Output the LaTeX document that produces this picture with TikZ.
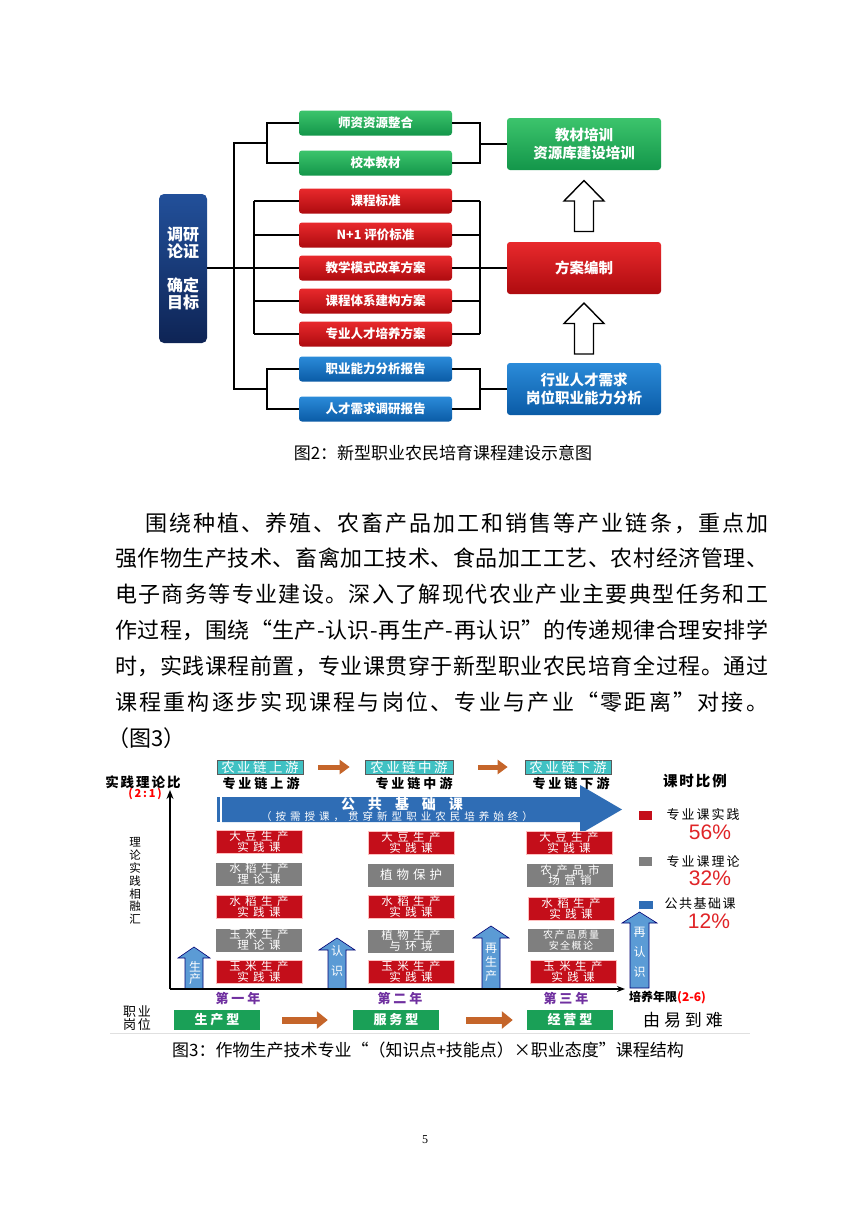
\documentclass[tikz,border=0pt]{standalone}
\usepackage{fontspec}
\setmainfont{Noto Sans CJK SC}
\newfontfamily\lsans{Liberation Sans}
\newfontfamily\lserif{Liberation Serif}
\usetikzlibrary{arrows.meta,calc,shadings}
\newcommand\fsz[2]{\fontsize{#1}{#2}\selectfont}
\def\spr#1{\sprA#1\sprEnd}
\def\sprA#1#2\sprEnd{#1\ifx\relax#2\relax\else\hfill\sprA#2\sprEnd\fi}
\def\ls#1#2{\def\lsk{\kern#1\relax}\lsA#2\lsEnd}
\def\lsA#1#2\lsEnd{#1\ifx\relax#2\relax\else\lsk\lsA#2\lsEnd\fi}
\definecolor{gA}{HTML}{3CC46C}
\definecolor{gB}{HTML}{13964A}
\definecolor{rA}{HTML}{E8292C}
\definecolor{rB}{HTML}{AE0B0F}
\definecolor{bA}{HTML}{2B8BD9}
\definecolor{bB}{HTML}{0A5BA6}
\definecolor{nA}{HTML}{22509A}
\definecolor{nB}{HTML}{0E2455}
\definecolor{tealc}{HTML}{3FC1C3}
\definecolor{brownc}{HTML}{C5652A}
\definecolor{cred}{HTML}{C40E1A}
\definecolor{cgray}{HTML}{7F7F7F}
\definecolor{lblue}{HTML}{5B9BD5}
\definecolor{pgreen}{HTML}{1AA057}
\definecolor{purp}{HTML}{7030A0}
\definecolor{pct}{HTML}{E02427}
\definecolor{bigblue}{HTML}{2F6DB5}
\tikzset{
  box/.style={rounded corners=3pt, inner sep=0pt, text=white, align=center, font=\bfseries\fsz{12.5}{15}},
  gbox/.style={box, top color=gA, bottom color=gB, minimum width=153pt, minimum height=25pt},
  rbox/.style={box, top color=rA, bottom color=rB, minimum width=153pt, minimum height=25pt},
  bbox/.style={box, top color=bA, bottom color=bB, minimum width=153pt, minimum height=25pt},
  bigbox/.style={minimum width=154pt, minimum height=52pt, font=\bfseries\fsz{14.5}{18}},
  conn/.style={draw=black, line width=1.3pt},
  hollow/.style={draw=black, line width=1.4pt, fill=white, line join=miter},
  tealbox/.style={fill=tealc, draw=black!65, line width=.7pt, text=white, inner sep=0pt, minimum width=86pt, minimum height=14pt, font=\fsz{13.5}{13}},
  brarrow/.style={draw=brownc, line width=5pt, -{Triangle[length=10pt,width=14pt]}},
  brarrowB/.style={draw=brownc, line width=7pt, -{Triangle[length=11pt,width=17pt]}},
  chain/.style={font=\bfseries\fsz{13}{13}},
  axis/.style={draw=black, line width=2.2pt},
  course/.style={inner sep=0pt, minimum width=86pt, minimum height=23pt, text=white, align=center, font=\fsz{11.5}{10.8}},
  credb/.style={course, fill=cred, draw=red!25!white, line width=.6pt},
  cgrayb/.style={course, fill=cgray},
  barrow/.style={fill=lblue, draw=blue!45!black, line width=.6pt},
  arrtxt/.style={text=white, font=\fsz{12}{12}},
  year/.style={text=purp, font=\bfseries\fsz{13}{13}},
  pgbox/.style={fill=pgreen, inner sep=0pt, minimum width=86pt, minimum height=20pt, text=white, font=\bfseries\fsz{13}{13}},
  legtxt/.style={font=\fsz{13}{13}, anchor=west},
  pcttxt/.style={text=pct, font=\lsans\fsz{21}{21}},
  body/.style={anchor=west, inner sep=0pt, font=\fsz{22}{22}},
}
\begin{document}
\begin{tikzpicture}[x=1pt,y=-1pt]
\useasboundingbox (0,0) rectangle (860,1216);
\fill[white] (0,0) rectangle (860,1216);

% ---------------- Figure 2 ----------------
\node[box, top color=nA, bottom color=nB, minimum width=48pt, minimum height=149pt, rounded corners=5pt, font=\bfseries\fsz{16}{17}] (nav) at (183,268.5) {调研\\论证\\[17pt]确定\\目标};

\node[gbox] (m1) at (375.5,123) {师资资源整合};
\node[gbox] (m2) at (375.5,163) {校本教材};
\node[rbox] (m3) at (375.5,201) {课程标准};
\node[rbox] (m4) at (375.5,235) {N+1 评价标准};
\node[rbox] (m5) at (375.5,268) {教学模式改革方案};
\node[rbox] (m6) at (375.5,301) {课程体系建构方案};
\node[rbox] (m7) at (375.5,334) {专业人才培养方案};
\node[bbox] (m8) at (375.5,369) {职业能力分析报告};
\node[bbox] (m9) at (375.5,409) {人才需求调研报告};

\node[gbox, bigbox] (r1) at (584,144) {教材培训\\资源库建设培训};
\node[rbox, bigbox] (r2) at (584,268) {方案编制};
\node[bbox, bigbox] (r3) at (584,389) {行业人才需求\\岗位职业能力分析};

\coordinate (tx) at (234,0);
\coordinate (gx) at (267,0);
\coordinate (rx) at (254,0);
\coordinate (rr) at (480,0);
\coordinate (gm) at ($(m1.west -| gx)!0.5!(m2.west -| gx)$);
\coordinate (bm) at ($(m8.west -| gx)!0.5!(m9.west -| gx)$);

\draw[conn] (nav.east |- m5) -- (m5.west);
\draw[conn] (gm) -- (gm -| tx) -- (bm -| tx) -- (bm);
\draw[conn] (m1.west) -- (m1.west -| gx) -- (m2.west -| gx) -- (m2.west);
\draw[conn] (m8.west) -- (m8.west -| gx) -- (m9.west -| gx) -- (m9.west);
\draw[conn] (m3.west -| rx) -- (m7.west -| rx);
\foreach \i in {3,4,6,7} \draw[conn] (m\i.west -| rx) -- (m\i.west);
\draw[conn] (m1.east) -- (m1.east -| rr) -- (m2.east -| rr) -- (m2.east);
\draw[conn] (r1.west -| rr) -- (r1.west);
\draw[conn] (m3.east -| rr) -- (m7.east -| rr);
\foreach \i in {3,4,6,7} \draw[conn] (m\i.east) -- (m\i.east -| rr);
\draw[conn] (m5.east) -- (m5.east -| r2.west);
\draw[conn] (m8.east) -- (m8.east -| rr) -- (m9.east -| rr) -- (m9.east);
\draw[conn] (r3.west -| rr) -- (r3.west);

\coordinate (a1c) at ($(r1.south)!0.5!(r2.north)$);
\coordinate (a2c) at ($(r2.south)!0.5!(r3.north)$);
\foreach \c in {a1c,a2c}{
  \draw[hollow] ($(\c)+(-9.5,25.5)$) -- ($(\c)+(-9.5,-5)$) -- ($(\c)+(-20,-5)$) -- ($(\c)+(0,-25.5)$) -- ($(\c)+(20,-5)$) -- ($(\c)+(9.5,-5)$) -- ($(\c)+(9.5,25.5)$) -- cycle;
}

\node[font=\fsz{17}{17}] (cap2) at (443,453) {图2：新型职业农民培育课程建设示意图};

% ---------------- Body text ----------------
\node[body] (p1) at (145,523) {\makebox[623pt][s]{\spr{围绕种植、养殖、农畜产品加工和销售等产业链条，重点加}}};
\node[body] (p2) at (115,558) {\makebox[653pt][s]{\spr{强作物生产技术、畜禽加工技术、食品加工工艺、农村经济管理、}}};
\node[body] (p3) at (115,594) {\makebox[653pt][s]{\spr{电子商务等专业建设。深入了解现代农业产业主要典型任务和工}}};
\node[body] (p4) at (115,630) {\makebox[653pt][s]{\spr{作过程，围绕“生产-认识-再生产-再认识”的传递规律合理安排学}}};
\node[body] (p5) at (115,666) {\makebox[653pt][s]{\spr{时，实践课程前置，专业课贯穿于新型职业农民培育全过程。通过}}};
\node[body] (p6) at (115,702) {\makebox[653pt][s]{\spr{课程重构逐步实现课程与岗位、专业与产业“零距离”对接。}}};
\node[body] (p7) at (107,738) {（图3）};

% ---------------- Figure 3 ----------------
\node[tealbox] (u1) at (260,767) {\ls{2.5pt}{农业链上游}};
\node[tealbox, minimum width=88pt] (u2) at (409,767) {\ls{2.5pt}{农业链中游}};
\node[tealbox] (u3) at (568,767) {\ls{2.5pt}{农业链下游}};
\draw[brarrow, shorten <=15pt, shorten >=15pt] (u1.east) -- (u2.west);
\draw[brarrow, shorten <=25pt, shorten >=17pt] (u2.east) -- (u3.west);

\node[chain] (c1) at (261,784) {\ls{3pt}{专业链上游}};
\node[chain] (c2) at (414,784) {\ls{3pt}{专业链中游}};
\node[chain] (c3) at (571,784) {\ls{3pt}{专业链下游}};

\node[font=\bfseries\fsz{13.5}{13.5}] (ratio) at (143,782) {\ls{2pt}{实践理论比}};
\node[text=red, font=\bfseries\fsz{11}{11}] (ratio2) at (145,794) {(\,2\,:\,1\,)};
\node[align=center, font=\fsz{11.5}{12.8}] (vert) at (135,881) {理\\论\\实\\践\\相\\融\\汇};

\coordinate (O) at (170,989);
\coordinate (Yt) at (170,790);
\coordinate (Xr) at (625,989);

% big blue arrow
\fill[bigblue] (217,797) rectangle (219.5,822);
\fill[bigblue] (222,797) -- (580,797) -- (580,785) -- (622,809.5) -- (580,834) -- (580,822) -- (222,822) -- cycle;
\node[text=white, font=\bfseries\fsz{14}{14}] (pub) at (402,804) {公\hspace{13pt}共\hspace{13pt}基\hspace{13pt}础\hspace{13pt}课};
\node[text=white, font=\fsz{10.5}{10.5}] (pub2) at (397,816.5) {\makebox[272pt][s]{\spr{（按需授课，贯穿新型职业农民培养始终）}}};

% courses
\node[credb] (k11) at (259,842) {\ls{4.5pt}{大豆生产}\\\ls{4.5pt}{实践课}};
\node[cgrayb] (k12) at (259,874) {\ls{4.5pt}{水稻生产}\\\ls{4.5pt}{理论课}};
\node[credb] (k13) at (259,907) {\ls{4.5pt}{水稻生产}\\\ls{4.5pt}{实践课}};
\node[cgrayb] (k14) at (259,940) {\ls{4.5pt}{玉米生产}\\\ls{4.5pt}{理论课}};
\node[credb] (k15) at (259,971.5) {\ls{4.5pt}{玉米生产}\\\ls{4.5pt}{实践课}};

\node[credb] (k21) at (411,843) {\ls{4.5pt}{大豆生产}\\\ls{4.5pt}{实践课}};
\node[cgrayb, font=\fsz{12.5}{12}] (k22) at (411,875) {\ls{4pt}{植物保护}};
\node[credb] (k23) at (411,907) {\ls{4.5pt}{水稻生产}\\\ls{4.5pt}{实践课}};
\node[cgrayb] (k24) at (411,941) {\ls{4.5pt}{植物生产}\\\ls{4.5pt}{与环境}};
\node[credb] (k25) at (411,971.5) {\ls{4.5pt}{玉米生产}\\\ls{4.5pt}{实践课}};

\node[credb] (k31) at (569,843) {\ls{4.5pt}{大豆生产}\\\ls{4.5pt}{实践课}};
\node[cgrayb] (k32) at (570,875) {\ls{4.5pt}{农产品市}\\\ls{4.5pt}{场营销}};
\node[credb] (k33) at (571,909) {\ls{4.5pt}{水稻生产}\\\ls{4.5pt}{实践课}};
\node[cgrayb, font=\fsz{10}{11}] (k34) at (571,940) {\ls{1.5pt}{农产品质量}\\\ls{1.5pt}{安全概论}};
\node[credb] (k35) at (573,971.5) {\ls{4.5pt}{玉米生产}\\\ls{4.5pt}{实践课}};

% up arrows
\draw[barrow] (185,989) -- (185,958) -- (178,958) -- (194,947) -- (210,958) -- (203,958) -- (203,989) -- cycle;
\draw[barrow] (328,989) -- (328,950) -- (319,950) -- (337,938) -- (355,950) -- (346,950) -- (346,989) -- cycle;
\draw[barrow] (482,989) -- (482,938) -- (473,938) -- (491,926) -- (509,938) -- (500,938) -- (500,989) -- cycle;
\draw[barrow] (630,988) -- (630,923) -- (622,923) -- (639.5,912) -- (657,923) -- (649,923) -- (649,988) -- cycle;
\node[arrtxt] (t1a) at (195,967) {生};
\node[arrtxt] (t1b) at (195,979) {产};
\node[arrtxt] (t2a) at (337,951) {认};
\node[arrtxt] (t2b) at (337,971) {识};
\node[arrtxt] (t3a) at (491,948) {再};
\node[arrtxt] (t3b) at (491,962) {生};
\node[arrtxt] (t3c) at (491,976) {产};
\node[arrtxt] (t4a) at (639.5,932) {再};
\node[arrtxt] (t4b) at (639.5,952) {认};
\node[arrtxt] (t4c) at (639.5,972) {识};

% axes
\draw[axis, -{Stealth[length=9pt,width=7pt]}] (O) -- (Yt);
\draw[axis, line width=1.8pt, -{Stealth[length=8pt,width=6pt]}] (O) -- (Xr);

\node[year] (y1) at (238,998) {\ls{3pt}{第一年}};
\node[year] (y2) at (400,998) {\ls{3pt}{第二年}};
\node[year] (y3) at (566,998) {\ls{3pt}{第三年}};
\node[anchor=west, font=\bfseries\fsz{12}{12}, inner sep=0pt] (yrs) at (629,998) {培养年限{\color{red}(2-6)}};

\node[align=center, font=\fsz{13}{12}] (job) at (137,1018) {\ls{2pt}{职业}\\\ls{2pt}{岗位}};
\node[pgbox] (j1) at (217,1020) {\ls{3pt}{生产型}};
\node[pgbox] (j2) at (396,1020) {\ls{3pt}{服务型}};
\node[pgbox] (j3) at (570,1020) {\ls{3pt}{经营型}};
\draw[brarrowB, shorten <=22pt, shorten >=25pt] (j1.east) -- (j2.west);
\draw[brarrowB, shorten <=27pt, shorten >=14pt] (j2.east) -- (j3.west);
\node[font=\fsz{17}{17}] (diff) at (683,1020) {\ls{4pt}{由易到难}};

% legend
\node[font=\bfseries\fsz{14.5}{14.5}] (leg) at (695,781) {\ls{2pt}{课时比例}};
\fill[cred] (639,811) rectangle (652,820);
\node[legtxt] (l1) at (663,815) {\ls{2pt}{专业课实践}};
\node[pcttxt] (p56) at (710,832) {56\%};
\fill[cgray] (639,857) rectangle (652,866);
\node[legtxt] (l2) at (663,862) {\ls{2pt}{专业课理论}};
\node[pcttxt] (p32) at (710,878) {32\%};
\fill[bigblue] (639,901) rectangle (653,909);
\node[legtxt] (l3) at (661,904) {\ls{1.5pt}{公共基础课}};
\node[pcttxt] (p12) at (709,921) {12\%};

\draw[black!12, line width=1pt] (110,1033) -- (750,1033);

\node[font=\fsz{17}{17}] (cap3) at (428,1050) {图3：作物生产技术专业“（知识点+技能点）×职业态度”课程结构};

\node[font=\lserif\fsz{12}{12}] (pg) at (425,1140) {5};
\end{tikzpicture}
\end{document}
